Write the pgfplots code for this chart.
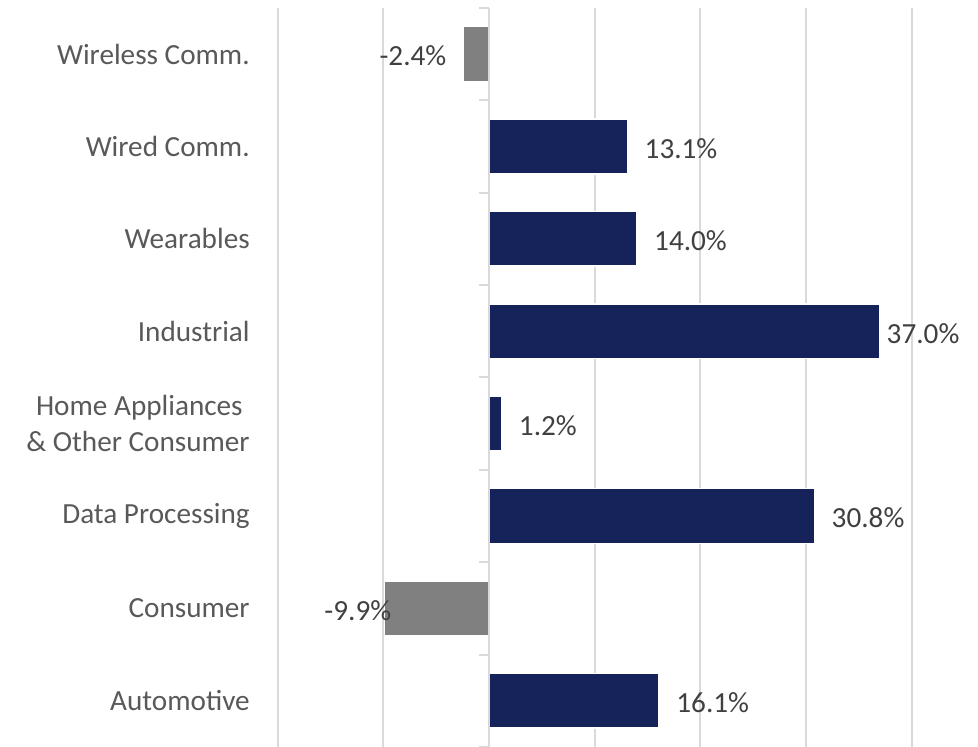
\documentclass[border=0pt]{standalone}
\usepackage{pgfplots}
\usepackage{pgfplotstable}
\pgfplotsset{compat=1.18}
\usepackage{fontspec}
\setmainfont{Carlito}
\definecolor{navy}{RGB}{21,35,90}
\definecolor{barg}{RGB}{128,128,128}
\definecolor{gridc}{RGB}{217,217,217}
\definecolor{cattext}{RGB}{89,89,89}
\definecolor{valtext}{RGB}{64,64,64}

% y index: 0 Automotive ... 7 Wireless Comm.; dx = label shift in pt
\pgfplotstableread{
y x dx
0 16.1 8.25
2 30.8 8.25
3 1.2 8.25
4 37.0 3.0
5 14.0 8.25
6 13.1 8.25
}\posdata
\pgfplotstableread{
y x dx
1 -9.9 3.8
7 -2.4 -8.3
}\negdata

\begin{document}
\begin{tikzpicture}
\useasboundingbox (0,0) rectangle (489pt,373.5pt);
\begin{axis}[
  at={(138.85pt,0pt)}, anchor=south west,
  scale only axis,
  width=317pt, height=369.6pt,
  xmin=-20, xmax=40,
  ymin=-0.5, ymax=7.5,
  xtick={-20,-10,...,40},
  xticklabels={},
  xmajorgrids,
  grid style={gridc, line width=1pt},
  ytick={0,...,7},
  yticklabels={Automotive, Consumer, Data Processing, {Home Appliances\hspace*{3.5pt}\\\& Other Consumer}, Industrial, Wearables, Wired Comm., Wireless Comm.},
  yticklabel style={align=right, font=\fontsize{14.6}{18}\selectfont, text=cattext, inner sep=0pt, xshift=-13.8pt},
  major tick length=0pt,
  axis line style={draw=none},
  clip=false,
  xbar, bar width=27.4pt, bar shift=0pt,
  visualization depends on={\thisrow{dx} \as \dx},
  nodes near coords={\pgfmathprintnumber[fixed,fixed zerofill,precision=1,assume math mode=true]{\pgfplotspointmeta}\%},
  point meta=x,
  every node near coord/.append style={font=\fontsize{14.6}{17}\selectfont, text=valtext, inner sep=0pt, xshift=\dx pt, yshift=-1pt},
]
\addplot[fill=navy, draw=white, line width=0.75pt,
  every node near coord/.append style={anchor=west}] table[x=x,y=y] {\posdata};
\addplot[fill=barg, draw=white, line width=0.75pt,
  every node near coord/.append style={anchor=east}] table[x=x,y=y] {\negdata};
\draw[gridc, line width=1pt] (axis cs:0,-0.5) -- (axis cs:0,7.5);
\pgfplotsinvokeforeach{-0.5,0.5,1.5,2.5,3.5,4.5,5.5,6.5,7.5}{
  \draw[gridc, line width=1pt] (axis cs:0,#1) -- ([xshift=-5pt]axis cs:0,#1);
}
\end{axis}
\end{tikzpicture}
\end{document}
